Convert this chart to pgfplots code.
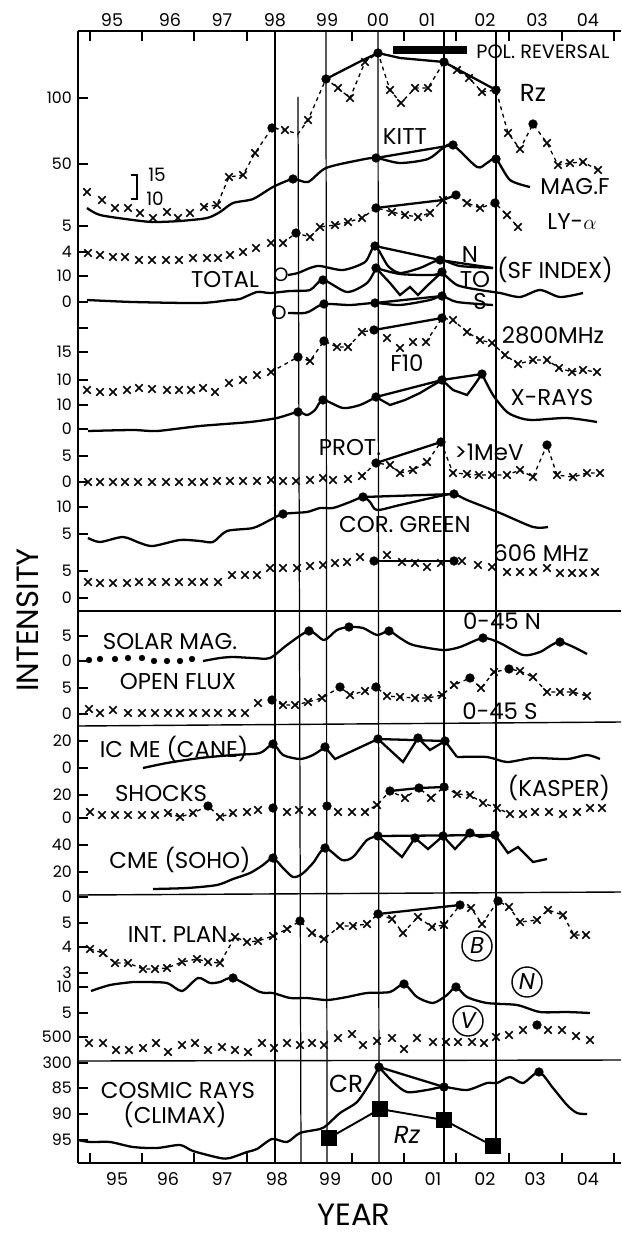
\documentclass[border=0pt]{standalone}
\usepackage{fontspec}
\setmainfont{Poppins}
\usepackage{pgfplots}
\pgfplotsset{compat=1.18}
% picture coordinates: x, y in pixels of the original drawing (y grows downward)
\pgfplotsset{
  sol/.style={black, line width=1.3pt, no markers, smooth, tension=0.45},
  seg/.style={black, line width=1.3pt, no markers},
  xs/.style={black, only marks, mark=x, mark size=1.05mm, mark options={line width=0.95pt}},
  dsh/.style={black, line width=0.75pt, no markers, dash pattern=on 2.2pt off 2.2pt},
  dts/.style={black, only marks, mark=*, mark size=0.85mm},
}
\tikzset{
  lab/.style={font=\fontsize{13}{15}\selectfont, inner sep=0pt},
  sml/.style={font=\fontsize{10}{12}\selectfont, inner sep=0pt},
  big/.style={font=\fontsize{17.5}{20}\selectfont, inner sep=0pt},
  circ/.style={draw, circle, line width=0.8pt, minimum size=6mm, inner sep=0pt,
    font=\fontsize{13}{15}\selectfont\itshape},
}
\begin{document}
\begin{tikzpicture}
\begin{axis}[
  x=0.2mm, y=0.2mm, y dir=reverse,
  xmin=78, xmax=621, ymin=31, ymax=1163,
  clip=false,
  axis x line=box, axis y line=left,
  axis line style={-, line width=1pt},
  tick align=inside, major tick length=2mm,
  tick style={line width=0.8pt, black},
  xtick={90,142,194,247,352,404,456,509,562,614},
  xticklabels={},
  ytick pos=left,
  ytick={98,164,226,252,276,302,328,352,380,405,429,456,482,507,534,571,598,636,661,688,714,741,768,795,818,845,872,897,923,947,973,987,1013,1037,1063,1088,1114,1140},
  yticklabels={100,50,5,4,10,0,{},15,10,10,0,5,0,10,5,5,0,5,0,5,0,20,0,20,0,40,20,0,5,4,3,10,5,500,300,85,90,95},
  yticklabel style={font=\fontsize{9}{11}\selectfont},
  /pgf/number format/assume math mode=true,
]
\path (0,0) rectangle (621,1235);

% year lines and panel dividers
\draw[line width=0.7pt] (275,31) -- (275,1163);
\draw[line width=0.7pt] (298,97) -- (301,1163);
\draw[line width=0.7pt] (326,31) -- (327,1163);
\draw[line width=0.7pt] (378,31) -- (379,1163);
\draw[line width=0.7pt] (444,31) -- (444,1163);
\draw[line width=0.7pt] (496,30) -- (496,1146);
\draw[line width=0.8pt] (78,611) -- (621,611);
\draw[line width=0.8pt] (78,726) -- (621,722);
\draw[line width=0.8pt] (78,895) -- (621,892);
\draw[line width=0.8pt] (78,1061) -- (621,1060);

% years
\node[sml] at (112,20) {95};
\node[sml] at (170,20) {96};
\node[sml] at (222,20) {97};
\node[sml] at (275,20) {98};
\node[sml] at (327,20) {99};
\node[sml] at (378,20) {00};
\node[sml] at (427,20) {01};
\node[sml] at (485,20) {02};
\node[sml] at (537,20) {03};
\node[sml] at (588,20) {04};
\node[sml] at (117,1179) {95};
\node[sml] at (168,1179) {96};
\node[sml] at (222,1179) {97};
\node[sml] at (277,1179) {98};
\node[sml] at (330,1179) {99};
\node[sml] at (382,1179) {00};
\node[sml] at (433,1179) {01};
\node[sml] at (485,1179) {02};
\node[sml] at (535,1179) {03};
\node[sml] at (588,1179) {04};
\node[big, rotate=90] at (28,620) {INTENSITY};
\node[big] at (354,1215) {YEAR};

% ---- Rz
\fill (393,46) rectangle (467,54);
\node[lab, font=\fontsize{11}{13}\selectfont, anchor=west] at (476,52) {POL. REVERSAL};
\addplot[dsh] coordinates {(204,207)(217,205)(229,177)(243,175)(255,153)(272,128)(285,130)(298,134)(308,120)(326,79)(338,88)(350,98)(365,62)(378,53)(390,90)(401,103)(415,88)(428,88)(444,62)(457,70)(469,78)(482,92)(496,90)(508,133)(520,149)(533,124)(547,143)(558,165)(570,163)(583,162)(598,170)};
\addplot[xs] coordinates {(87,192)(102,200)(115,208)(128,208)(140,213)(153,218)(167,212)(178,218)(190,213)(204,207)(217,205)(229,177)(243,175)(255,153)(285,130)(308,120)(338,88)(350,98)(365,62)(390,90)(401,103)(415,88)(428,88)(457,70)(469,78)(482,92)(508,133)(520,149)(547,143)(558,165)(570,163)(583,162)(598,170)};
\addplot[seg] coordinates {(326,79)(363,60)(378,53)(400,58)(444,62)(496,90)};
\addplot[dts] coordinates {(272,128)(326,79)(378,53)(444,62)(496,90)(533,124)};
\node[lab, font=\fontsize{14}{16}\selectfont] at (533,93) {Rz};
\draw[line width=0.8pt] (131,175) -- (137,175) -- (137,199) -- (131,199);
\node[lab, font=\fontsize{10.5}{12}\selectfont] at (157,175) {15};
\node[lab, font=\fontsize{10.5}{12}\selectfont] at (155,199) {10};

% ---- KITT magnetic field
\addplot[sol] coordinates {(87,208)(100,215)(133,220)(153,222)(180,221)(207,218)(220,212)(233,203)(253,199)(273,187)(293,179)(308,182)(326,168)(360,160)(376,158)(400,163)(428,159)(443,148)(453,145)(477,167)(487,163)(496,159)(510,180)(530,187)};
\addplot[seg] coordinates {(376,158)(453,145)};
\addplot[dts] coordinates {(293,179)(376,158)(453,145)(496,159)};
\node[lab] at (405,137) {KITT};
\node[lab] at (575,187) {MAG.F};

% ---- Lyman alpha
\addplot[xs] coordinates {(88,253)(100,255)(113,257)(125,257)(139,260)(152,260)(166,260)(179,260)(193,258)(207,258)(218,258)(230,255)(243,252)(256,248)(271,243)(283,243)};
\addplot[dsh] coordinates {(283,243)(296,233)(310,237)(320,227)(335,225)(348,222)(362,218)(376,208)(392,212)(405,215)(418,217)(430,213)(443,200)(456,195)(467,203)(480,208)(495,203)(507,215)(518,227)};
\addplot[xs] coordinates {(310,237)(320,227)(335,225)(348,222)(362,218)(392,212)(405,215)(418,217)(430,213)(443,200)(467,203)(480,208)(507,215)(518,227)};
\addplot[seg] coordinates {(376,208)(443,200)(456,195)};
\addplot[dts] coordinates {(296,233)(376,208)(456,195)(495,203)};
\node[lab] at (572,222) {LY-$\alpha$};

% ---- SF index: total, north, south
\addplot[sol] coordinates {(87,300)(133,302)(200,303)(230,300)(240,299)(257,292)(270,293)(290,291)(310,290)(323,280)(347,292)(367,283)(376,268)};
\addplot[seg] coordinates {(376,268)(390,283)(400,295)(410,287)(418,295)(428,285)(442,272)};
\addplot[sol] coordinates {(442,272)(457,285)(480,290)(500,293)(520,297)(540,290)(560,297)(583,293)};
\addplot[sol] coordinates {(376,268)(400,274)(433,275)(442,272)};
\addplot[sol] coordinates {(288,275)(298,273)(310,268)(320,266)(343,270)(365,262)(375,246)(388,266)(400,273)(420,268)(440,260)(460,266)(493,268)};
\addplot[seg] coordinates {(375,246)(440,260)(493,268)};
\addplot[sol] coordinates {(288,313)(305,313)(312,310)(324,304)(350,305)(375,303)(400,305)(430,300)(442,296)(457,302)(493,305)};
\addplot[seg] coordinates {(375,303)(442,296)};
\addplot[dts] coordinates {(323,280)(376,268)(442,272)(375,246)(440,260)(324,304)(375,303)(442,296)};
\node[lab, font=\fontsize{11}{13}\selectfont] at (281,275) {O};
\node[lab, font=\fontsize{11}{13}\selectfont] at (279,313) {O};
\node[lab] at (225,280) {TOTAL};
\node[lab] at (470,255) {N};
\node[lab] at (475,280) {TO};
\node[lab] at (480,302) {S};
\node[lab] at (555,270) {(SF INDEX)};

% ---- 2800 MHz (F10)
\addplot[xs] coordinates {(87,390)(100,392)(113,392)(127,390)(139,388)(152,389)(167,390)(179,390)(191,390)(203,388)(215,392)(229,383)(243,380)(257,375)(271,372)};
\addplot[dsh] coordinates {(271,372)(298,357)(310,361)(324,341)(337,347)(348,347)(362,332)(374,330)};
\addplot[dsh] coordinates {(426,342)(442,318)(453,320)(467,332)(480,340)(492,343)(505,355)(518,364)(533,360)(547,360)(559,368)(572,372)(583,370)(597,372)};
\addplot[xs] coordinates {(310,361)(337,347)(348,347)(362,332)(387,338)(400,348)(413,342)(426,342)(453,320)(467,332)(480,340)(492,343)(505,355)(518,364)(533,360)(547,360)(559,368)(572,372)(583,370)(597,372)};
\addplot[seg] coordinates {(374,330)(442,318)};
\addplot[dts] coordinates {(298,357)(324,341)(374,330)(442,318)};
\node[lab] at (553,335) {2800MHz};
\node[lab] at (407,363) {F10};

% ---- X-rays
\addplot[sol] coordinates {(88,431)(133,430)(157,431)(200,426)(250,422)(277,418)(298,412)(307,415)(315,410)(323,400)(343,408)(360,405)(376,397)};
\addplot[seg] coordinates {(376,397)(390,405)(405,400)(420,393)(430,387)(442,380)(453,390)(467,395)(473,387)(482,374)};
\addplot[sol] coordinates {(482,374)(493,395)(507,412)(520,418)(533,420)(567,418)(597,422)};
\addplot[seg] coordinates {(376,397)(442,380)(482,374)};
\addplot[dts] coordinates {(298,412)(323,400)(376,397)(442,380)(482,374)};
\node[lab] at (552,398) {X-RAYS};

% ---- protons > 1 MeV
\addplot[xs] coordinates {(88,482)(100,482)(113,482)(125,482)(138,482)(152,482)(166,482)(179,482)(192,482)(204,482)(217,481)(230,481)(243,481)(257,481)(271,480)(283,481)(296,481)(310,480)(323,478)(333,480)(348,479)(362,476)};
\addplot[dsh] coordinates {(362,476)(376,463)(390,465)(400,473)(413,470)(427,462)(441,442)(453,473)(467,474)(479,475)(492,475)(507,475)(520,470)(533,477)(547,445)(557,475)(573,477)(587,473)(600,473)};
\addplot[xs] coordinates {(390,465)(400,473)(413,470)(427,462)(453,473)(467,474)(479,475)(492,475)(507,475)(520,470)(533,477)(557,475)(573,477)(587,473)(600,473)};
\addplot[seg] coordinates {(376,463)(441,442)};
\addplot[dts] coordinates {(376,463)(441,442)(547,445)};
\node[lab] at (350,448) {PROT.};
\node[lab] at (489,452) {>1MeV};

% ---- coronal green line
\addplot[sol] coordinates {(88,538)(100,542)(123,537)(140,543)(153,546)(180,540)(200,541)(213,542)(227,531)(253,528)(270,520)(283,514)(307,512)(320,508)(333,508)(350,502)(363,497)(370,502)(377,510)(400,505)(440,496)(454,494)(467,500)(500,513)(533,527)(548,527)};
\addplot[seg] coordinates {(363,497)(454,494)};
\addplot[dts] coordinates {(283,514)(363,497)(454,494)};
\node[lab] at (405,525) {COR. GREEN};

% ---- 606 MHz
\addplot[xs] coordinates {(88,582)(100,583)(113,583)(127,583)(139,582)(152,582)(166,582)(179,582)(192,582)(204,582)(218,582)(232,575)(245,575)(257,575)(270,568)(283,568)(297,568)(310,566)(323,565)(335,563)(347,562)(360,557)(387,555)(402,562)(415,563)(427,567)(441,563)(462,561)(478,565)(492,567)(507,572)(520,572)(533,572)(547,568)(560,573)(572,573)(583,573)(595,572)};
\addplot[seg] coordinates {(374,561)(454,561)};
\addplot[dts] coordinates {(374,561)(454,561)};
\node[lab] at (541,553) {606 MHz};

% ---- solar magnetic open flux, 0-45 N
\addplot[black, only marks, mark=*, mark size=0.55mm] coordinates {(89,660)(100,659)(115,659)(128,658)(142,658)(154,661)(167,661)(180,661)(192,659)};
\addplot[sol] coordinates {(203,661)(220,658)(233,657)(253,658)(270,658)(287,645)(309,631)(324,640)(337,630)(349,627)(363,628)(377,635)(389,631)(400,638)(413,645)(443,650)(460,647)(483,638)(500,643)(523,655)(540,652)(560,642)(587,654)};
\addplot[dts] coordinates {(309,631)(349,627)(389,631)(483,638)(560,642)};
\node[lab] at (170,642) {SOLAR MAG.};
\node[lab] at (502,621) {0-45 N};

% ---- open flux, 0-45 S
\addplot[xs] coordinates {(89,709)(100,713)(113,710)(128,713)(142,713)(155,713)(168,713)(180,713)(193,713)(206,713)(218,713)(232,713)(245,713)(258,703)};
\addplot[dsh] coordinates {(272,700)(283,705)(295,705)(308,702)(322,698)(340,687)(350,695)(365,691)(376,687)(387,696)(400,697)(415,698)(428,698)(442,695)(454,685)(470,678)(481,688)(494,672)(509,669)(520,671)(533,677)(547,692)(560,692)(573,692)(587,696)};
\addplot[xs] coordinates {(283,705)(295,705)(308,702)(322,698)(350,695)(365,691)(387,696)(400,697)(415,698)(428,698)(442,695)(454,685)(481,688)(494,672)(520,671)(533,677)(547,692)(560,692)(573,692)(587,696)};
\addplot[dts] coordinates {(272,700)(340,687)(376,687)(470,678)(509,669)};
\node[lab] at (178,682) {OPEN FLUX};
\node[lab] at (500,711) {0-45 S};

% ---- ICME (Cane)
\addplot[sol] coordinates {(143,768)(167,763)(200,758)(233,755)(260,753)(273,744)(283,755)(300,759)(313,755)(325,747)};
\addplot[seg] coordinates {(325,747)(335,759)(378,739)(403,762)(418,738)(430,750)(445,741)(457,757)};
\addplot[sol] coordinates {(457,757)(487,757)(507,762)(533,758)(567,759)(587,755)(600,759)};
\addplot[seg] coordinates {(378,739)(445,741)};
\addplot[dts] coordinates {(273,744)(325,747)(378,739)(418,738)(445,741)};
\node[lab] at (174,749) {IC ME (CANE)};

% ---- shocks (Kasper)
\addplot[xs] coordinates {(90,812)(102,815)(115,815)(128,815)(142,815)(155,815)(168,813)(180,817)(193,813)(220,817)(233,813)(247,812)(258,810)(287,812)(299,810)(312,812)(338,812)(352,812)(365,812)(377,805)(405,798)(431,798)(457,794)(470,795)(483,803)(497,808)(510,814)(523,814)(535,812)(549,812)(563,814)(577,812)(590,808)(602,808)};
\addplot[dsh] coordinates {(168,813)(180,817)(193,813)(208,806)(220,817)(233,813)};
\addplot[dsh] coordinates {(365,812)(377,805)(390,791)(405,798)(419,788)(431,798)(444,787)(457,794)(470,795)(483,803)(497,808)(510,814)};
\addplot[seg] coordinates {(390,791)(419,788)(444,787)};
\addplot[dts] coordinates {(208,806)(273,808)(327,806)(390,791)(419,788)(444,787)};
\node[lab] at (161,794) {SHOCKS};
\node[lab] at (559,788) {(KASPER)};

% ---- CME (SOHO)
\addplot[sol] coordinates {(153,889)(187,888)(217,885)(233,879)(250,873)(263,865)(273,858)(283,868)(293,877)(302,874)(313,863)(325,848)(342,860)(353,857)(367,840)(378,836)};
\addplot[seg] coordinates {(378,836)(402,857)(415,838)(428,849)(443,836)(455,849)(470,833)(480,837)(495,835)(508,853)(518,847)(533,862)(547,859)};
\addplot[seg] coordinates {(378,836)(495,835)};
\addplot[dts] coordinates {(273,858)(325,848)(378,836)(415,838)(443,836)(470,833)(495,835)};
\node[lab] at (180,860) {CME (SOHO)};

% ---- interplanetary B
\addplot[dsh] coordinates {(90,949)(103,953)(115,963)(128,963)(143,969)(155,969)(167,968)(182,962)(197,959)(208,962)(220,963)(235,937)(247,942)(258,941)(273,936)(287,929)(300,921)(312,933)(324,939)(340,926)(353,926)(367,924)(378,914)(392,919)(403,933)(418,917)(432,927)(444,925)(460,905)(471,908)(482,924)(498,901)(509,907)(520,922)(537,920)(548,910)(563,915)(574,935)(586,935)};
\addplot[xs] coordinates {(90,949)(103,953)(115,963)(128,963)(143,969)(155,969)(167,968)(182,962)(197,959)(208,962)(220,963)(235,937)(247,942)(258,941)(273,936)(287,929)(312,933)(324,939)(340,926)(353,926)(367,924)(392,919)(403,933)(418,917)(432,927)(444,925)(471,908)(482,924)(509,907)(520,922)(537,920)(548,910)(563,915)(574,935)(586,935)};
\addplot[seg] coordinates {(378,914)(460,905)};
\addplot[dts] coordinates {(300,921)(378,914)(460,905)(498,901)};
\node[lab] at (180,935) {INT. PLAN.};
\node[circ] at (477,946) {B};

% ---- interplanetary N
\addplot[sol] coordinates {(91,991)(110,985)(133,982)(143,982)(167,983)(182,991)(198,978)(210,983)(220,982)(233,978)(260,992)(273,993)(290,998)(307,998)(327,1000)(347,997)(367,993)(390,992)(404,984)(417,997)(433,1003)(447,995)(456,987)(467,997)(487,1003)(517,1005)(540,1012)(567,1012)(590,1013)};
\addplot[dts] coordinates {(233,978)(404,984)(456,987)};
\node[circ] at (527,982) {N};

% ---- interplanetary V
\addplot[xs] coordinates {(89,1043)(103,1043)(116,1050)(129,1050)(143,1048)(156,1043)(168,1052)(182,1045)(195,1043)(208,1050)(222,1047)(235,1050)(248,1052)(262,1043)(274,1048)(287,1043)(300,1045)(312,1043)(324,1045)(338,1038)(352,1034)(363,1045)(377,1041)(392,1038)(404,1049)(417,1038)(433,1042)(446,1042)(458,1042)(472,1042)(484,1043)(496,1037)(509,1035)(523,1030)(548,1030)(562,1030)(576,1036)(590,1040)};
\addplot[dts] coordinates {(537,1025)};
\node[circ] at (468,1021) {V};

% ---- cosmic rays (Climax) and Rz
\addplot[sol] coordinates {(78,1140)(90,1142)(110,1142)(133,1147)(157,1148)(180,1145)(193,1151)(220,1158)(230,1158)(247,1152)(257,1149)(272,1139)(287,1142)(300,1133)(320,1129)(327,1125)(340,1113)(357,1102)(370,1083)(379,1067)};
\addplot[sol] coordinates {(379,1067)(393,1082)(407,1092)(427,1090)(444,1087)(467,1090)(487,1083)(497,1083)(510,1077)(523,1083)(539,1072)(553,1088)(567,1105)(577,1113)(587,1114)};
\addplot[seg] coordinates {(379,1067)(444,1087)};
\addplot[dts] coordinates {(379,1067)(444,1087)(539,1072)};
\addplot[black, line width=1.1pt, mark=square*, mark size=1.5mm] coordinates {(329,1138)(380,1109)(444,1120)(493,1146)};
\node[lab] at (178,1091) {COSMIC RAYS};
\node[lab] at (175,1115) {(CLIMAX)};
\node[lab, font=\fontsize{14}{16}\selectfont] at (346,1084) {CR};
\node[lab, font=\fontsize{14}{16}\selectfont\itshape] at (407,1135) {Rz};
\end{axis}
\end{tikzpicture}
\end{document}
